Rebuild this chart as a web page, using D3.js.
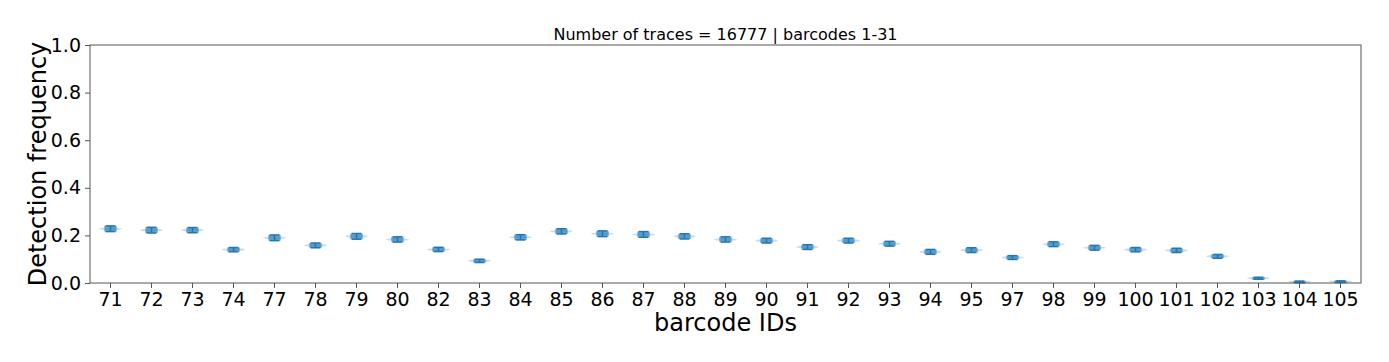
<!DOCTYPE html>
<html>
<head>
<meta charset="utf-8">
<script src="https://cdn.jsdelivr.net/npm/d3@7"></script>
<style>
  body { margin: 0; background: #fff; }
  svg text { font-family: "DejaVu Sans", sans-serif; fill: #000; }
</style>
</head>
<body>
<div id="d3-container"></div>
<script>
/**
 * DATA
 * */
const barcodes = ["71","72","73","74","77","78","79","80","82","83","84","85","86","87","88",
  "89","90","91","92","93","94","95","97","98","99","100","101","102","103","104","105"];
// detection frequency (centre of each mark)
const freq = [0.228,0.222,0.222,0.140,0.190,0.158,0.196,0.183,0.141,0.093,0.192,0.217,0.207,0.204,0.196,
  0.183,0.178,0.151,0.178,0.165,0.131,0.138,0.107,0.163,0.148,0.140,0.137,0.112,0.020,0.005,0.006];
// half spread of the bootstrap range
const spread = [0.012,0.012,0.011,0.009,0.012,0.010,0.012,0.011,0.009,0.007,0.011,0.011,0.012,0.012,0.011,
  0.011,0.010,0.010,0.010,0.010,0.010,0.010,0.008,0.010,0.010,0.009,0.009,0.008,0.004,0.003,0.003];
const yTicks = [0, 0.2, 0.4, 0.6, 0.8, 1.0];
const titleText = "Number of traces = 16777 | barcodes 1-31";

const width = 1389, height = 362,
  margin = { top: 45, right: 28, bottom: 79, left: 90 };

const svg = d3.select("#d3-container").append("svg")
  .attr("width", width).attr("height", height);

const x = d3.scaleBand().domain(barcodes)
  .range([margin.left, width - margin.right]).padding(0);
const y = d3.scaleLinear().domain([0, 1])
  .range([height - margin.bottom, margin.top]);

const blue = "#1f77b4";
const bw = x.bandwidth();

// marks
const g = svg.append("g");
const marks = g.selectAll("g.mark")
  .data(barcodes.map((b, i) => ({ b, m: freq[i], lo: freq[i] - spread[i], hi: freq[i] + spread[i] })))
  .join("g").attr("class", "mark")
  .attr("transform", d => `translate(${x(d.b) + bw / 2},0)`);

// faint wide body line at the centre
marks.append("ellipse")
  .attr("cx", 0).attr("cy", d => y(d.m))
  .attr("rx", bw * 0.28).attr("ry", 1.5)
  .attr("fill", blue).attr("opacity", 0.25);

// box
marks.append("rect")
  .attr("x", -bw * 0.15).attr("width", bw * 0.3)
  .attr("y", d => y(d.hi)).attr("height", d => Math.max(2.5, y(d.lo) - y(d.hi)))
  .attr("fill", blue).attr("opacity", 0.65);

// whisker + caps
marks.append("line")
  .attr("x1", 0).attr("x2", 0)
  .attr("y1", d => y(d.hi)).attr("y2", d => y(d.lo))
  .attr("stroke", blue).attr("stroke-width", 1.5);
["lo", "hi"].forEach(k => {
  marks.append("line")
    .attr("x1", -bw * 0.12).attr("x2", bw * 0.12)
    .attr("y1", d => y(d[k])).attr("y2", d => y(d[k]))
    .attr("stroke", blue).attr("stroke-width", 1.5);
});

// axes
const xAxis = svg.append("g")
  .attr("transform", `translate(0,${height - margin.bottom})`)
  .call(d3.axisBottom(x).tickSize(5).tickPadding(4));
xAxis.selectAll("text").style("font-size", "19px").attr("dy", "0.75em");

const yAxis = svg.append("g")
  .attr("transform", `translate(${margin.left},0)`)
  .call(d3.axisLeft(y).tickValues(yTicks).tickFormat(d3.format(".1f")).tickSize(5).tickPadding(4));
yAxis.selectAll("text").style("font-size", "19px");

svg.selectAll(".domain").remove();
svg.selectAll(".tick line").attr("stroke", "#555");

// frame
svg.append("rect")
  .attr("x", margin.left).attr("y", margin.top)
  .attr("width", width - margin.left - margin.right)
  .attr("height", height - margin.top - margin.bottom)
  .attr("fill", "none").attr("stroke", "#555").attr("stroke-width", 1);

// labels
svg.append("text")
  .attr("x", (margin.left + width - margin.right) / 2).attr("y", 40)
  .attr("text-anchor", "middle").style("font-size", "16px")
  .text(titleText);

svg.append("text")
  .attr("x", (margin.left + width - margin.right) / 2).attr("y", 331)
  .attr("text-anchor", "middle").style("font-size", "24px")
  .text("barcode IDs");

svg.append("text")
  .attr("transform", `translate(46,${(margin.top + height - margin.bottom) / 2}) rotate(-90)`)
  .attr("text-anchor", "middle").style("font-size", "24px")
  .text("Detection frequency");
</script>
</body>
</html>
